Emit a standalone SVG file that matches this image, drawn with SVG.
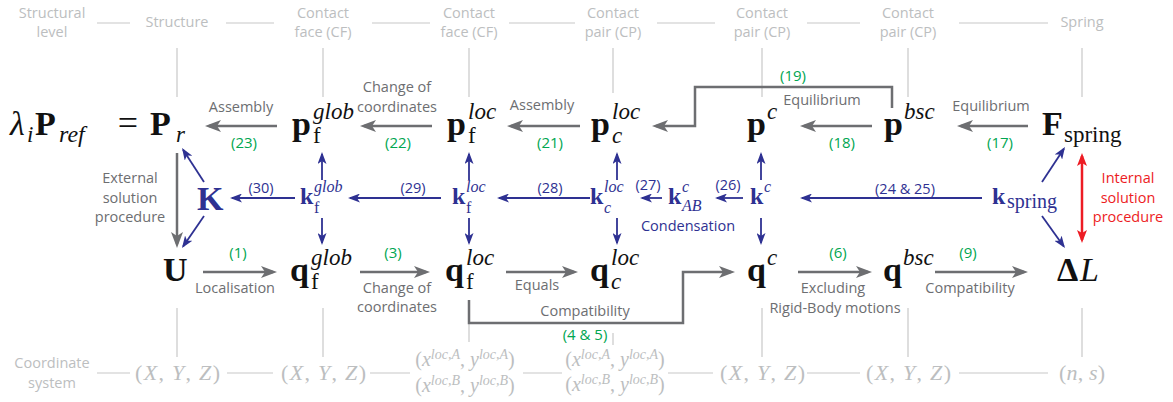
<svg xmlns="http://www.w3.org/2000/svg" width="1173" height="402" viewBox="0 0 1173 402">
<style>
text{font-family:"Liberation Serif","Times New Roman",serif;}
.lab{font-family:"Open Sans","Noto Sans",sans-serif;font-size:14.5px;fill:#6d6e71;text-anchor:middle;}
.hdr{font-family:"Open Sans","Noto Sans",sans-serif;font-size:14.5px;fill:#bcbec0;text-anchor:middle;}
.grn{font-family:"Open Sans","Noto Sans",sans-serif;font-size:15px;fill:#00a651;text-anchor:middle;}
.bl{font-family:"Open Sans","Noto Sans",sans-serif;font-size:14.5px;fill:#2e3192;text-anchor:middle;}
.bll{font-family:"Open Sans","Noto Sans",sans-serif;font-size:14.5px;fill:#2e3192;text-anchor:middle;}
.red{font-family:"Open Sans","Noto Sans",sans-serif;font-size:14.5px;fill:#ed1c24;text-anchor:middle;}
.bf{font-weight:bold;font-size:34px;fill:#111;}
.sp{font-style:italic;font-size:23px;fill:#111;}
.sr{font-size:23px;fill:#111;}
.kb{font-weight:bold;font-size:24px;fill:#2e3192;}
.ks{font-style:italic;font-size:16px;fill:#2e3192;}
.kr{font-size:16px;fill:#2e3192;}
.cm{font-size:22px;fill:#bcbec0;}
.cm20{font-size:20px;fill:#bcbec0;}
.it{font-style:italic;}
.cs{font-style:italic;font-size:14px;}
.vl{stroke:#c8c8c8;stroke-width:1.2;fill:none;}
.ga{stroke:#6d6e71;stroke-width:2.5;fill:none;marker-end:url(#ag);}
.ba{stroke:#2e3192;stroke-width:1.8;fill:none;marker-end:url(#ab);}
.ra{stroke:#ed1c24;stroke-width:2.5;fill:none;marker-end:url(#ar);marker-start:url(#ar);}
</style>
<defs>
<marker id="ag" markerUnits="userSpaceOnUse" viewBox="0 0 16 12" markerWidth="16" markerHeight="12" refX="12" refY="6" orient="auto"><path d="M0,0 L16,6 L0,12 L4,6 z" fill="#6d6e71"/></marker>
<marker id="ab" markerUnits="userSpaceOnUse" viewBox="0 0 12 9" markerWidth="12" markerHeight="9" refX="10" refY="4.5" orient="auto"><path d="M0,0 L12,4.5 L0,9 L3,4.5 z" fill="#2e3192"/></marker>
<marker id="ar" markerUnits="userSpaceOnUse" viewBox="0 0 13 10" markerWidth="13" markerHeight="10" refX="10" refY="5" orient="auto-start-reverse"><path d="M0,0 L13,5 L0,10 L3,5 z" fill="#ed1c24"/></marker>
</defs>
<rect width="1173" height="402" fill="#fff"/>

<g id="header">
<text class="hdr" x="52" y="18">Structural</text><text class="hdr" x="52" y="37">level</text>
<text class="hdr" x="177" y="27">Structure</text>
<text class="hdr" x="323" y="18">Contact</text><text class="hdr" x="323" y="37">face (CF)</text>
<text class="hdr" x="469" y="18">Contact</text><text class="hdr" x="469" y="37">face (CF)</text>
<text class="hdr" x="613" y="18">Contact</text><text class="hdr" x="613" y="37">pair (CP)</text>
<text class="hdr" x="762" y="18">Contact</text><text class="hdr" x="762" y="37">pair (CP)</text>
<text class="hdr" x="908" y="18">Contact</text><text class="hdr" x="908" y="37">pair (CP)</text>
<text class="hdr" x="1082" y="27">Spring</text>
<path class="vl" d="M97,23H130 M226,23H274 M372,23H430 M509,23H575 M657,23H715 M807,23H860 M959,23H1048"/>
<path class="vl" d="M177,48V97 M323,48V97 M469,48V97 M613,48V93 M762,48V97 M908,48V97 M1082,48V97"/>
</g>

<g id="footer">
<text class="hdr" x="52" y="368">Coordinate</text><text class="hdr" x="52" y="388">system</text>
<path class="vl" d="M97,373H130 M227,373H273 M370,373H410 M523,373H562 M668,373H713 M807,373H860 M959,373H1048"/>
<path class="vl" d="M177,308V357 M323,308V357 M469,300V342 M613,333V345 M762,308V357 M908,308V357 M1082,308V357"/>
<text class="cm" x="135" y="380" textLength="85" lengthAdjust="spacing">(<tspan class="it">X</tspan>, <tspan class="it">Y</tspan>, <tspan class="it">Z</tspan>)</text>
<text class="cm" x="281" y="380" textLength="85" lengthAdjust="spacing">(<tspan class="it">X</tspan>, <tspan class="it">Y</tspan>, <tspan class="it">Z</tspan>)</text>
<text class="cm20" x="465" y="366" text-anchor="middle">(<tspan class="it">x</tspan><tspan class="cs" dy="-7">loc,A</tspan><tspan dy="7">, </tspan><tspan class="it">y</tspan><tspan class="cs" dy="-7">loc,A</tspan><tspan dy="7">)</tspan></text>
<text class="cm20" x="465" y="392" text-anchor="middle">(<tspan class="it">x</tspan><tspan class="cs" dy="-7">loc,B</tspan><tspan dy="7">, </tspan><tspan class="it">y</tspan><tspan class="cs" dy="-7">loc,B</tspan><tspan dy="7">)</tspan></text>
<text class="cm20" x="615" y="366" text-anchor="middle">(<tspan class="it">x</tspan><tspan class="cs" dy="-7">loc,A</tspan><tspan dy="7">, </tspan><tspan class="it">y</tspan><tspan class="cs" dy="-7">loc,A</tspan><tspan dy="7">)</tspan></text>
<text class="cm20" x="615" y="391" text-anchor="middle">(<tspan class="it">x</tspan><tspan class="cs" dy="-7">loc,B</tspan><tspan dy="7">, </tspan><tspan class="it">y</tspan><tspan class="cs" dy="-7">loc,B</tspan><tspan dy="7">)</tspan></text>
<text class="cm" x="720" y="380" textLength="85" lengthAdjust="spacing">(<tspan class="it">X</tspan>, <tspan class="it">Y</tspan>, <tspan class="it">Z</tspan>)</text>
<text class="cm" x="866" y="380" textLength="85" lengthAdjust="spacing">(<tspan class="it">X</tspan>, <tspan class="it">Y</tspan>, <tspan class="it">Z</tspan>)</text>
<text class="cm" x="1059" y="380" textLength="46" lengthAdjust="spacing">(<tspan class="it">n</tspan>, <tspan class="it">s</tspan>)</text>
</g>

<g id="connectors">
<line class="ga" x1="277" y1="126" x2="209" y2="126"/>
<line class="ga" x1="432" y1="126" x2="364" y2="126"/>
<line class="ga" x1="580" y1="126" x2="511" y2="126"/>
<polyline class="ga" points="892,108 892,87 695,87 695,126 656,126"/>
<line class="ga" x1="872" y1="126" x2="804" y2="126"/>
<line class="ga" x1="1028" y1="126" x2="961" y2="126"/>
<line class="ga" x1="177" y1="153" x2="177" y2="244"/>
<line class="ga" x1="203" y1="272" x2="273" y2="272"/>
<line class="ga" x1="360" y1="272" x2="426" y2="272"/>
<line class="ga" x1="506" y1="272" x2="574" y2="272"/>
<polyline class="ga" points="469,300 469,323 683,323 683,272 731,272"/>
<line class="ga" x1="798" y1="272" x2="868" y2="272"/>
<line class="ga" x1="935" y1="272" x2="1024" y2="272"/>
<line class="ba" x1="295" y1="198" x2="232" y2="198"/>
<line class="ba" x1="441" y1="198" x2="350" y2="198"/>
<line class="ba" x1="590" y1="198" x2="499" y2="198"/>
<line class="ba" x1="662" y1="198" x2="642" y2="198"/>
<line class="ba" x1="743" y1="198" x2="717" y2="198"/>
<line class="ba" x1="982" y1="198" x2="802" y2="198"/>
<line class="ba" x1="322" y1="180" x2="322" y2="154"/>
<line class="ba" x1="469" y1="180" x2="469" y2="154"/>
<line class="ba" x1="617" y1="180" x2="617" y2="154"/>
<line class="ba" x1="761" y1="180" x2="761" y2="154"/>
<line class="ba" x1="322" y1="218" x2="322" y2="243"/>
<line class="ba" x1="469" y1="218" x2="469" y2="243"/>
<line class="ba" x1="617" y1="218" x2="617" y2="243"/>
<line class="ba" x1="761" y1="218" x2="761" y2="243"/>
<line class="ba" x1="204" y1="182" x2="183.1" y2="149.7"/>
<line class="ba" x1="204" y1="216" x2="183.1" y2="246.4"/>
<line class="ba" x1="1042" y1="182" x2="1063.9" y2="148.7"/>
<line class="ba" x1="1042" y1="216" x2="1063.8" y2="246.4"/>
<line class="ra" x1="1082" y1="156" x2="1082" y2="240"/>
</g>

<g id="connector-labels">
<text class="lab" x="241" y="112">Assembly</text>
<text class="lab" x="397" y="92">Change of</text><text class="lab" x="397" y="112">coordinates</text>
<text class="lab" x="542" y="110">Assembly</text>
<text class="lab" x="822" y="105">Equilibrium</text>
<text class="lab" x="991" y="111">Equilibrium</text>
<text class="grn" x="244" y="148">(23)</text>
<text class="grn" x="398" y="148">(22)</text>
<text class="grn" x="550" y="148">(21)</text>
<text class="grn" x="793" y="81">(19)</text>
<text class="grn" x="842" y="148">(18)</text>
<text class="grn" x="1000" y="148">(17)</text>
<text class="lab" x="130" y="183">External</text><text class="lab" x="130" y="203">solution</text><text class="lab" x="130" y="222">procedure</text>
<text class="red" x="1128" y="183">Internal</text><text class="red" x="1128" y="203">solution</text><text class="red" x="1128" y="222">procedure</text>
<text class="bl" x="261" y="193">(30)</text>
<text class="bl" x="413" y="193">(29)</text>
<text class="bl" x="550" y="193">(28)</text>
<text class="bl" x="648" y="190">(27)</text>
<text class="bl" x="728" y="190">(26)</text>
<text class="bl" x="905" y="194">(24 &amp; 25)</text>
<text class="bll" x="688" y="231">Condensation</text>
<text class="grn" x="238" y="258">(1)</text>
<text class="grn" x="393" y="258">(3)</text>
<text class="grn" x="838" y="258">(6)</text>
<text class="grn" x="968" y="258">(9)</text>
<text class="lab" x="235" y="293">Localisation</text>
<text class="lab" x="397" y="293">Change of</text><text class="lab" x="397" y="312">coordinates</text>
<text class="lab" x="537" y="290">Equals</text>
<text class="lab" x="585" y="316">Compatibility</text>
<text class="grn" x="585" y="340">(4 &amp; 5)</text>
<text class="lab" x="833" y="293">Excluding</text>
<text class="lab" x="835" y="313">Rigid-Body motions</text>
<text class="lab" x="970" y="293">Compatibility</text>
</g>

<g id="n-lhs">
<text class="sp" x="10" y="135" style="font-size:34px">λ</text>
<text class="sp" x="27" y="142">i</text>
<text class="bf" x="35" y="135">P</text>
<text class="sp" x="59" y="142" style="font-size:24px">ref</text>
<text x="128" y="135" text-anchor="middle" style="font-size:36px;fill:#111">=</text>
</g>
<g id="n-Pr"><text class="bf" x="150" y="135">P</text><text class="sp" x="176" y="142">r</text></g>
<g id="n-pfglob"><text class="bf" x="292" y="135">p</text><text class="sr" x="313" y="143">f</text><text class="sp" x="313" y="119">glob</text></g>
<g id="n-pfloc"><text class="bf" x="447" y="135">p</text><text class="sr" x="468" y="143">f</text><text class="sp" x="468" y="119">loc</text></g>
<g id="n-pcloc"><text class="bf" x="591" y="135">p</text><text class="sp" x="612" y="143">c</text><text class="sp" x="612" y="119">loc</text></g>
<g id="n-pc"><text class="bf" x="747" y="135">p</text><text class="sp" x="767" y="119">c</text></g>
<g id="n-pbsc"><text class="bf" x="884" y="135">p</text><text class="sp" x="904" y="119">bsc</text></g>
<g id="n-Fspring"><text class="bf" x="1042" y="135">F</text><text class="sr" x="1064" y="142">spring</text></g>

<g id="n-K"><text class="kb" x="197" y="210" style="font-size:34px">K</text></g>
<g id="n-kfglob"><text class="kb" x="300" y="204">k</text><text class="kr" x="314" y="213">f</text><text class="ks" x="314" y="192">glob</text></g>
<g id="n-kfloc"><text class="kb" x="452" y="204">k</text><text class="kr" x="466" y="213">f</text><text class="ks" x="466" y="192">loc</text></g>
<g id="n-kcloc"><text class="kb" x="590" y="204">k</text><text class="ks" x="604" y="213">c</text><text class="ks" x="604" y="192">loc</text></g>
<g id="n-kABc"><text class="kb" x="668" y="204">k</text><text class="ks" x="682" y="211">AB</text><text class="ks" x="682" y="192">c</text></g>
<g id="n-kc"><text class="kb" x="750" y="204">k</text><text class="ks" x="764" y="192">c</text></g>
<g id="n-kspring"><text class="kb" x="992" y="204">k</text><text class="kr" x="1007" y="208" style="font-size:20px">spring</text></g>

<g id="n-U"><text class="bf" x="163" y="281">U</text></g>
<g id="n-qfglob"><text class="bf" x="290" y="281">q</text><text class="sr" x="311" y="289">f</text><text class="sp" x="311" y="265">glob</text></g>
<g id="n-qfloc"><text class="bf" x="445" y="281">q</text><text class="sr" x="466" y="289">f</text><text class="sp" x="466" y="265">loc</text></g>
<g id="n-qcloc"><text class="bf" x="590" y="281">q</text><text class="sp" x="611" y="289">c</text><text class="sp" x="611" y="265">loc</text></g>
<g id="n-qc"><text class="bf" x="747" y="281">q</text><text class="sp" x="767" y="265">c</text></g>
<g id="n-qbsc"><text class="bf" x="883" y="281">q</text><text class="sp" x="903" y="265">bsc</text></g>
<g id="n-dL"><text class="bf" x="1057" y="281">Δ</text><text class="sp" x="1080" y="281" style="font-size:34px">L</text></g>
</svg>
